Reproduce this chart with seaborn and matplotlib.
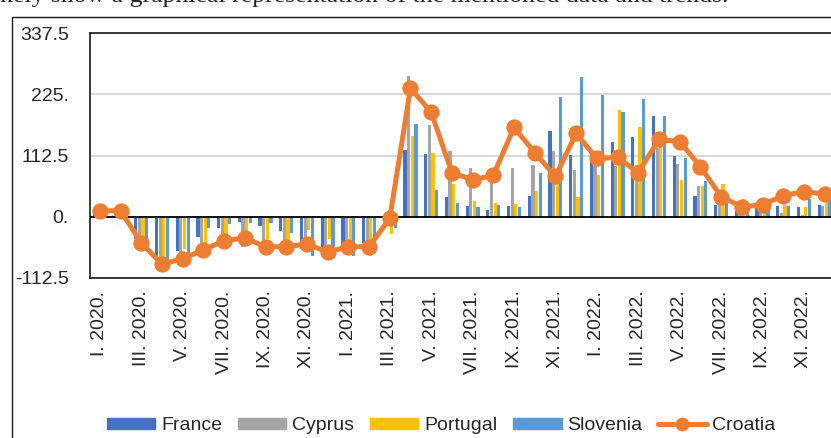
import matplotlib
matplotlib.use("Agg")
import matplotlib.pyplot as plt
from matplotlib.patches import Patch, Rectangle
from matplotlib.lines import Line2D
import pandas as pd
import seaborn as sns

# month labels, I. 2020. .. XII. 2022.
months = ['I. 2020.', 'II. 2020.', 'III. 2020.', 'IV. 2020.', 'V. 2020.', 'VI. 2020.',
          'VII. 2020.', 'VIII. 2020.', 'IX. 2020.', 'X. 2020.', 'XI. 2020.', 'XII. 2020.',
          'I. 2021.', 'II. 2021.', 'III. 2021.', 'IV. 2021.', 'V. 2021.', 'VI. 2021.',
          'VII. 2021.', 'VIII. 2021.', 'IX. 2021.', 'X. 2021.', 'XI. 2021.', 'XII. 2021.',
          'I. 2022.', 'II. 2022.', 'III. 2022.', 'IV. 2022.', 'V. 2022.', 'VI. 2022.',
          'VII. 2022.', 'VIII. 2022.', 'IX. 2022.', 'X. 2022.', 'XI. 2022.', 'XII. 2022.']

france = [6, 2, -40, -72, -62, -37, -20, -9, -17, -26, -60, -55,
          -52, -48, -8, 122, 115, 36, 20, 13, 19, 38, 158, 113,
          112, 137, 147, 185, 112, 39, 21, 18, 18, 19, 18, 22]
cyprus = [3, 3, -50, -80, -72, -50, -60, -55, -50, -45, -48, -60,
          -55, -55, -10, 258, 168, 120, 90, 81, 90, 95, 120, 85,
          93, 93, 95, 126, 97, 57, 30, 12, 12, 7, 3, 19]
portugal = [2, 1, -45, -75, -60, -52, -38, -32, -40, -42, -25, -40,
            -48, -72, -32, 148, 117, 61, 29, 25, 24, 47, 68, 36,
            77, 196, 164, 132, 68, 57, 61, 33, 21, 22, 17, 27]
slovenia = [5, 4, -55, -80, -78, -20, -14, -12, -12, -30, -72, -76,
            -72, -65, -20, 170, 50, 26, 18, 21, 18, 81, 220, 256,
            224, 192, 216, 185, 108, 66, 25, 21, 13, 19, 33, 30]
croatia = [11, 11, -48, -87, -77, -61, -44, -39, -55, -55, -50, -65,
           -55, -55, -3, 236, 192, 81, 68, 76, 164, 118, 74, 153,
           107, 109, 81, 142, 138, 92, 37, 18, 22, 39, 46, 42]

bar_countries = ['France', 'Cyprus', 'Portugal', 'Slovenia']
palette = {'France': '#4472C4', 'Cyprus': '#A5A5A5',
           'Portugal': '#FFC000', 'Slovenia': '#5B9BD5'}
croatia_color = '#ED7D31'

y_ticks = [-112.5, 0, 112.5, 225, 337.5]
y_labels = ['-112.5', '0.', '112.5', '225.', '337.5']

# long format for the bars
bars = pd.DataFrame({'month': months, 'France': france, 'Cyprus': cyprus,
                     'Portugal': portugal, 'Slovenia': slovenia})
bars = bars.melt(id_vars='month', var_name='country', value_name='value')
line = pd.DataFrame({'month': months, 'value': croatia})

sns.set_style('white')
plt.rcParams['font.family'] = ['Liberation Sans', 'DejaVu Sans']

W, H = 831, 438
fig = plt.figure(figsize=(W / 100, H / 100), dpi=100)
ax = fig.add_axes([89.5 / W, 1 - 278 / H, (835 - 89.5) / W, 245 / H])

sns.barplot(data=bars, x='month', y='value', hue='country', order=months,
            hue_order=bar_countries, palette=palette, width=0.7, gap=0.12,
            saturation=1, legend=False, linewidth=0, edgecolor='none', ax=ax)
sns.pointplot(data=line, x='month', y='value', order=months, color=croatia_color,
              errorbar=None, markersize=9, linewidth=3.6, zorder=5, ax=ax)

ax.axhline(0, color='black', lw=1.3, zorder=3)
ax.set_xlim(-0.5, len(months) - 0.5)
ax.set_ylim(y_ticks[0], y_ticks[-1])
ax.set_yticks(y_ticks)
ax.set_yticklabels(y_labels)
ax.set_xticks(range(0, len(months), 2))
ax.set_xticklabels(months[::2], rotation=90)
ax.tick_params(axis='x', length=0, pad=9, labelsize=14)
ax.tick_params(axis='y', length=0, pad=15, labelsize=14)
ax.set_xlabel('')
ax.set_ylabel('')
ax.set_axisbelow(True)
ax.yaxis.grid(True, color='#D9D9D9', lw=1.5)
for side in ['left', 'right', 'top', 'bottom']:
    ax.spines[side].set_color('#1a1a1a')
    ax.spines[side].set_linewidth(1.2)

# legend: four bar series plus the Croatia line
handles = [Patch(color=palette[c]) for c in bar_countries]
handles.append(Line2D([], [], color=croatia_color, lw=3.6, marker='o', markersize=9))
fig.legend(handles, bar_countries + ['Croatia'], loc='center',
           bbox_to_anchor=(0.531, 1 - 426 / H), ncol=5, frameon=False,
           fontsize=14, handlelength=2.5, handleheight=0.5,
           handletextpad=0.3, columnspacing=0.8)

# chart border and the cut-off line of document text above it
fig.patches.append(Rectangle((12 / W, -0.1), 1.2, 1.1 - 17 / H, transform=fig.transFigure,
                             fill=False, edgecolor='#1a1a1a', lw=1))
fig.text(0, 1 - 2 / H, 'kely show a graphical representation of the mentioned data and trends.',
         family=['Liberation Serif', 'DejaVu Serif'], fontsize=18.5, va='baseline', ha='left')

fig.savefig('out.png', dpi=100)
